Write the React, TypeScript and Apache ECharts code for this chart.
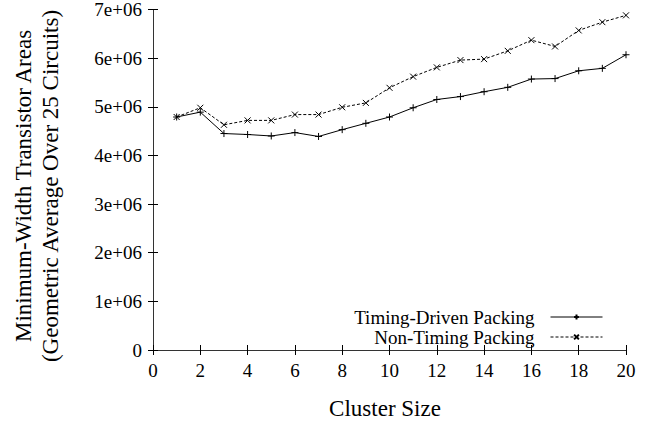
import React, { useEffect, useRef } from "react";
import * as echarts from "echarts";

const clusterSizes = [1, 2, 3, 4, 5, 6, 7, 8, 9, 10, 11, 12, 13, 14, 15, 16, 17, 18, 19, 20];
const timingDriven = [4.79e6, 4.89e6, 4.45e6, 4.43e6, 4.4e6, 4.47e6, 4.39e6, 4.53e6, 4.66e6, 4.79e6, 4.98e6, 5.15e6, 5.21e6, 5.31e6, 5.4e6, 5.57e6, 5.58e6, 5.74e6, 5.79e6, 6.07e6];
const nonTiming = [4.79e6, 4.98e6, 4.63e6, 4.72e6, 4.72e6, 4.84e6, 4.84e6, 4.99e6, 5.08e6, 5.39e6, 5.62e6, 5.81e6, 5.96e6, 5.98e6, 6.15e6, 6.37e6, 6.24e6, 6.57e6, 6.74e6, 6.88e6];
const seriesNames = ["Timing-Driven Packing", "Non-Timing Packing"];
const xTitle = "Cluster Size";
const yTitleLines = ["Minimum-Width Transistor Areas", "(Geometric Average Over 25 Circuits)"];

const FONT = "'Liberation Serif', 'DejaVu Serif', serif";

export default function App() {
  const ref = useRef<HTMLDivElement>(null);
  useEffect(() => {
    if (!ref.current) return;
    const chart = echarts.init(ref.current, null, { renderer: "svg" });
    const plus = "path://M0,4L8,4M4,0L4,8";
    const cross = "path://M0,0L8,8M0,8L8,0";
    const axisCommon = {
      type: "value" as const,
      axisLine: { show: true, lineStyle: { color: "#333", width: 1 } },
      axisTick: { show: true, inside: true, length: 5, lineStyle: { color: "#000" } },
      splitLine: { show: false },
    };
    chart.setOption({
      animation: false,
      backgroundColor: "#fff",
      textStyle: { fontFamily: FONT },
      grid: { left: 153, right: 26, top: 9, bottom: 75 },
      xAxis: [
        {
          ...axisCommon,
          min: 0,
          max: 20,
          interval: 2,
          position: "bottom",
          axisLabel: { fontFamily: FONT, fontSize: 19, color: "#000", margin: 11 },
        },
        {
          ...axisCommon,
          min: 0,
          max: 20,
          interval: 2,
          position: "top",
          axisLabel: { show: false },
        },
      ],
      yAxis: [
        {
          ...axisCommon,
          min: 0,
          max: 7e6,
          interval: 1e6,
          position: "left",
          axisLabel: {
            fontFamily: FONT,
            fontSize: 19,
            color: "#000",
            margin: 11,
            formatter: (v: number) => (v === 0 ? "0" : `${v / 1e6}e+06`),
          },
        },
        {
          ...axisCommon,
          min: 0,
          max: 7e6,
          interval: 1e6,
          position: "right",
          axisLabel: { show: false },
        },
      ],
      legend: {
        orient: "vertical",
        right: 49,
        top: 307,
        padding: 0,
        align: "right",
        itemWidth: 52,
        itemHeight: 6,
        itemGap: 0,
        lineStyle: { width: 1 },
        textStyle: { fontFamily: FONT, fontSize: 19, lineHeight: 20, color: "#000", padding: [0, 11, 0, 0] },
        data: seriesNames,
      },
      series: [
        {
          name: seriesNames[0],
          type: "line",
          data: clusterSizes.map((x, i) => [x, timingDriven[i]]),
          symbol: plus,
          symbolSize: 7,
          showAllSymbol: true,
          lineStyle: { color: "#000", width: 1, type: "solid" },
          itemStyle: { color: "#000", borderColor: "#000", borderWidth: 1 },
        },
        {
          name: seriesNames[1],
          type: "line",
          data: clusterSizes.map((x, i) => [x, nonTiming[i]]),
          symbol: cross,
          symbolSize: 6,
          showAllSymbol: true,
          lineStyle: { color: "#000", width: 1, type: [3, 2] },
          itemStyle: { color: "#000", borderColor: "#000", borderWidth: 1 },
        },
      ],
      graphic: [
        {
          type: "text",
          x: 385,
          y: 408,
          style: {
            text: xTitle,
            font: `23px ${FONT}`,
            fill: "#000",
            align: "center",
            verticalAlign: "middle",
          },
        },
        {
          type: "text",
          x: 23,
          y: 186,
          rotation: Math.PI / 2,
          style: {
            text: yTitleLines[0],
            font: `23px ${FONT}`,
            fill: "#000",
            align: "center",
            verticalAlign: "middle",
          },
        },
        {
          type: "text",
          x: 50,
          y: 186,
          rotation: Math.PI / 2,
          style: {
            text: yTitleLines[1],
            font: `23px ${FONT}`,
            fill: "#000",
            align: "center",
            verticalAlign: "middle",
          },
        },
      ],
    });
    return () => chart.dispose();
  }, []);
  return <div ref={ref} style={{ width: 652, height: 425, position: "absolute", left: 0, top: 0 }} />;
}
